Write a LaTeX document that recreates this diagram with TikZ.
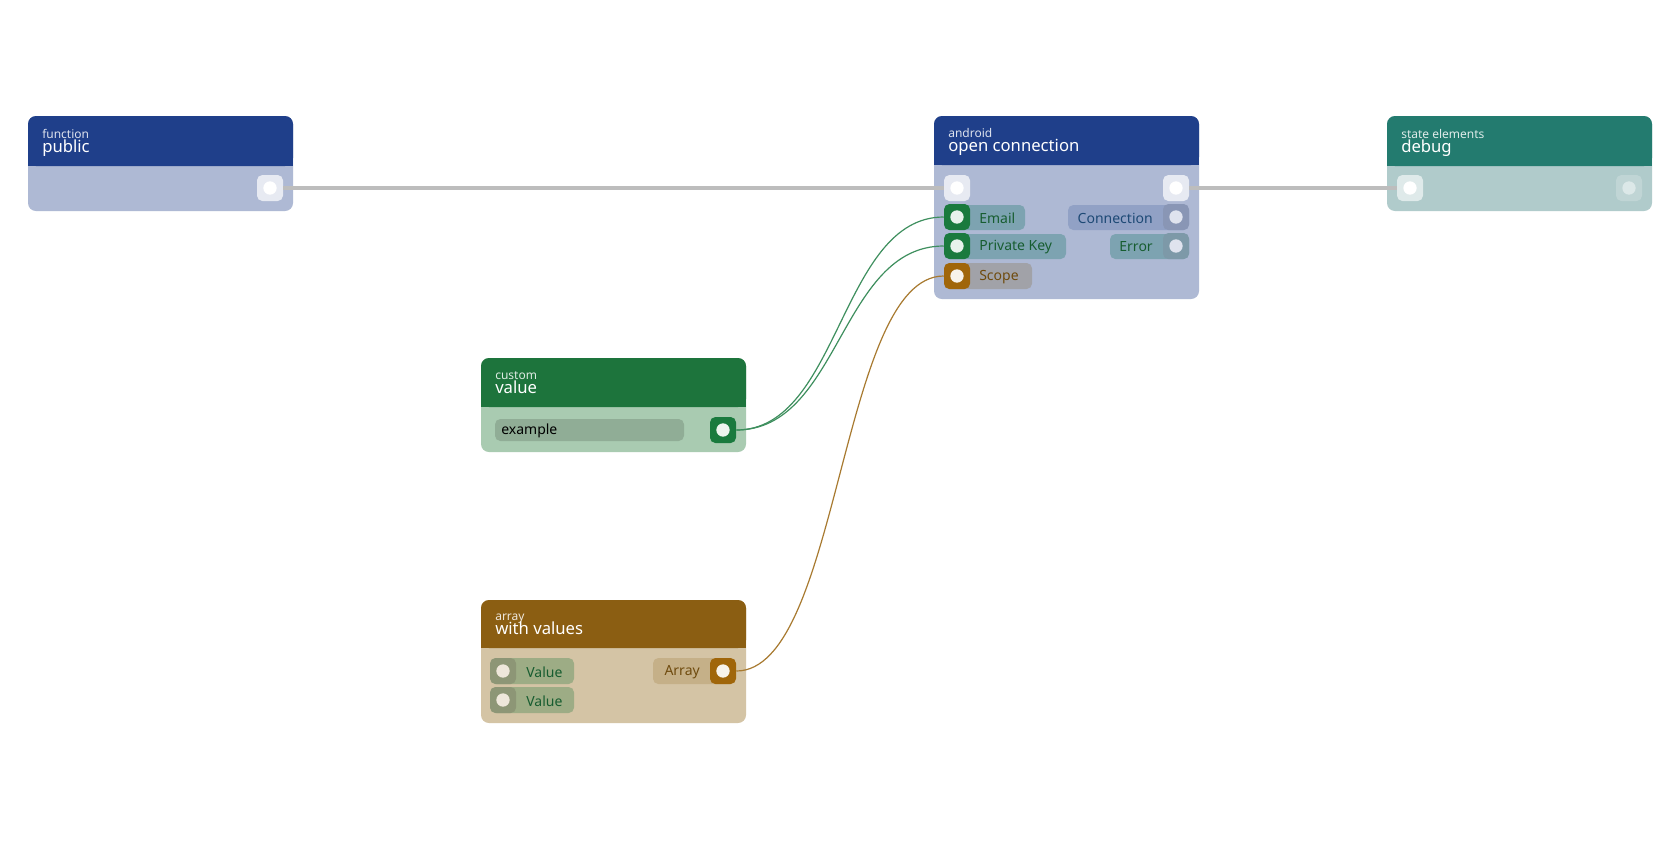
\documentclass[tikz,border=0pt]{standalone}
\usepackage{fontspec}
\setmainfont{Noto Sans}
\usetikzlibrary{positioning}
\definecolor{hblue}{HTML}{1F3F8A}\definecolor{bblue}{HTML}{AEB9D4}
\definecolor{hgreen}{HTML}{1D743C}\definecolor{bgreen}{HTML}{A9CBB1}
\definecolor{hbrown}{HTML}{8B5E12}\definecolor{bbrown}{HTML}{D4C4A5}
\definecolor{hteal}{HTML}{237B6F}\definecolor{bteal}{HTML}{B0CBCB}
\definecolor{pgreen}{HTML}{1A7A3E}\definecolor{porange}{HTML}{A0660A}
\definecolor{wgreen}{HTML}{3E8F5E}\definecolor{worange}{HTML}{A87A30}
\definecolor{wgray}{HTML}{BDBDBD}
\tikzset{
  port/.style 2 args={minimum size=19.5pt,inner sep=0pt,rounded corners=4pt,fill=#1,
    path picture={\fill[#2] (path picture bounding box.center) circle (5pt);}},
  pill/.style={fill=#1,rounded corners=4pt},
  lbl/.style={font=\fontsize{10.5}{12}\selectfont,text=#1,inner sep=0pt},
  wire/.style={line width=0.9pt},
}
% box: x1, y1, yhead, x2, y2, head, body, small, title
\newcommand\nbox[9]{%
  \fill[#7,rounded corners=6pt] (#1,#2) rectangle (#4,#5);
  \fill[#6,rounded corners=6pt] (#1,#2) rectangle (#4,#3);
  \fill[#6] (#1,#3-8) rectangle (#4,#3);
  \node[anchor=base west,inner sep=0pt,text=white!85!#6,font=\fontsize{9}{10}\selectfont] at (#1+14,#3-28) {#8};
  \node[anchor=base west,inner sep=0pt,text=white,font=\fontsize{12.5}{13}\selectfont] at (#1+14,#3-14) {#9};
}
\begin{document}
\begin{tikzpicture}[x=0.75pt,y=-0.75pt]
\useasboundingbox[fill=white] (0,0) rectangle (1680,840);
% blocks
\nbox{28}{116}{166}{293}{211}{hblue}{bblue}{function}{public}
\nbox{934}{116}{165}{1199}{299}{hblue}{bblue}{android}{open connection}
\nbox{1387}{116}{166}{1652}{211}{hteal}{bteal}{state elements}{debug}
\nbox{481}{358}{407}{746}{452}{hgreen}{bgreen}{custom}{value}
\nbox{481}{600}{648}{746}{723}{hbrown}{bbrown}{array}{with values}
% label pills
\fill[pill=hteal!35!bblue] (944,205) rectangle (1025,230);
\fill[pill=hteal!35!bblue] (944,234) rectangle (1066,259);
\fill[pill=black!20!bblue!70!bbrown] (944,263) rectangle (1032,289);
\fill[pill=hblue!20!bblue] (1068,205) rectangle (1189,230);
\fill[pill=hteal!35!bblue] (1110,234) rectangle (1189,259);
\fill[pill=bgreen!85!black] (495,419) rectangle (684,441);
\fill[pill=hgreen!30!bbrown] (491,658) rectangle (574,684);
\fill[pill=hgreen!30!bbrown] (491,687) rectangle (574,713);
\fill[pill=hbrown!20!bbrown] (653,658) rectangle (735,684);
\node[lbl=hgreen!80!black,anchor=west] (tEmail) at (979,218) {Email};
\node[lbl=hgreen!80!black,anchor=west] (tKey) at (979,247) {Private Key};
\node[lbl=hbrown!80!black,anchor=west] (tScope) at (979,277) {Scope};
\node[lbl=hblue!70!hteal!90!black,anchor=east] (tConn) at (1153,218) {Connection};
\node[lbl=hgreen!80!black,anchor=east] (tErr) at (1153,247) {Error};
\node[lbl=black,anchor=west] (tEx) at (501,431) {example};
\node[lbl=hgreen!80!black,anchor=west] (tVal1) at (526,672) {Value};
\node[lbl=hgreen!80!black,anchor=west] (tVal2) at (526,701) {Value};
\node[lbl=hbrown!80!black,anchor=east] (tArr) at (700,672) {Array};
% ports
\node[port={white!70!bblue}{white}] (pubOut) at (270,188) {};
\node[port={white!70!bblue}{white}] (ocIn) at (957,188) {};
\node[port={white!70!bblue}{white}] (ocOut) at (1176,188) {};
\node[port={pgreen}{white!90!pgreen}] (ocEmail) at (957,217) {};
\node[port={pgreen}{white!90!pgreen}] (ocKey) at (957,246) {};
\node[port={porange}{white!92!porange}] (ocScope) at (957,276) {};
\node[port={hblue!15!bblue!90!black}{white!60!bblue}] (ocConn) at (1176,217) {};
\node[port={hteal!25!bblue!90!black}{white!60!bblue}] (ocErr) at (1176,246) {};
\node[port={white!60!bteal}{white}] (dbgIn) at (1410,188) {};
\node[port={white!20!bteal}{white!55!bteal}] (dbgOut) at (1629,188) {};
\node[port={pgreen}{white!92!pgreen}] (valOut) at (723,430) {};
\node[port={hgreen!25!bbrown!85!black}{white!60!bbrown}] (arrIn1) at (503,671) {};
\node[port={hgreen!25!bbrown!85!black}{white!60!bbrown}] (arrIn2) at (503,700) {};
\node[port={porange}{white!92!porange}] (arrOut) at (723,671) {};
% wires
\draw[wgray,line width=3.5pt] (pubOut.east) -- (ocIn.west);
\draw[wgray,line width=3.5pt] (ocOut.east) -- (dbgIn.west);
\draw[wire,wgreen] (valOut.east) .. controls (840,430) and (840,217) .. (ocEmail.west);
\draw[wire,wgreen] (valOut.east) .. controls (840,430) and (840,246) .. (ocKey.west);
\draw[wire,worange] (arrOut.east) .. controls (840,671) and (840,276) .. (ocScope.west);
\end{tikzpicture}
\end{document}
